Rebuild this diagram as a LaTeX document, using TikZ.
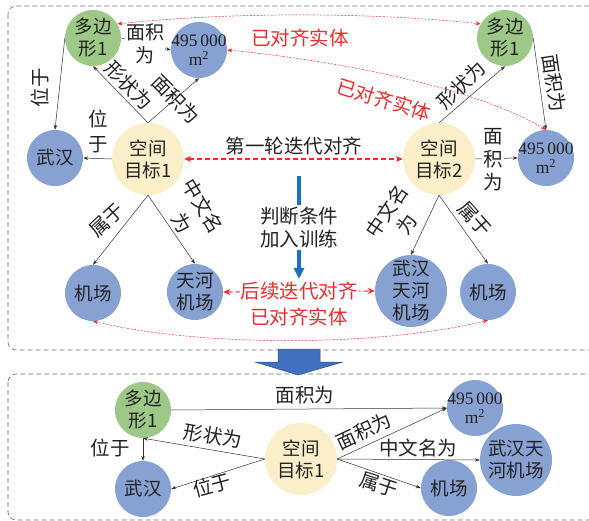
\documentclass[tikz,border=0pt]{standalone}
\usepackage{fontspec}
\setmainfont{Noto Sans CJK SC}
\newfontfamily\numfont{Liberation Serif}
\usetikzlibrary{arrows.meta}
\definecolor{gnode}{HTML}{9DC887}
\definecolor{bnode}{HTML}{87A1D2}
\definecolor{ynode}{HTML}{FAEFC9}
\definecolor{myred}{HTML}{EE2A2A}
\definecolor{arrblue}{HTML}{1F6FBF}
\definecolor{blockblue}{HTML}{4170C0}
\definecolor{blockedge}{HTML}{2F5597}
\definecolor{boxgray}{HTML}{6E6E6E}
\definecolor{txt}{HTML}{222222}
\newcommand\nodefont{\fontsize{18.5}{22}\selectfont}
\newcommand\lblfont{\fontsize{19.5}{23}\selectfont}
\newcommand\areafont{\numfont\fontsize{17.5}{19}\selectfont}
\tikzset{
  circ/.style={circle, inner sep=-10pt, minimum size=56pt, align=center, font=\nodefont, text=txt},
  bigc/.style={circ, minimum size=72pt},
  areac/.style={circ, fill=bnode, font=\areafont},
  lbl/.style={font=\lblfont, text=txt, inner sep=1pt, align=center},
  redlbl/.style={lbl, text=myred},
  edge/.style={draw=black!80, line width=0.5pt, -{Stealth[length=5pt,width=3.5pt]}},
  redthin/.style={draw=myred, line width=0.5pt, dash pattern=on 2pt off 1.5pt,
     {Stealth[length=5pt,width=4pt]}-{Stealth[length=5pt,width=4pt]}},
  redthick/.style={draw=myred, line width=1.1pt, dash pattern=on 5pt off 3pt,
     {Stealth[length=7pt,width=6pt]}-{Stealth[length=7pt,width=6pt]}},
  bluearr/.style={draw=arrblue, line width=3.5pt, -{Triangle[length=11pt,width=10pt]}},
  boxline/.style={draw=boxgray, line width=0.6pt, dash pattern=on 5pt off 3pt, rounded corners=8pt}
}
\begin{document}
\begin{tikzpicture}[x=1pt,y=-1pt]
\useasboundingbox (0,0) rectangle (589,521);
\clip (0,0) rectangle (589,521);

% block arrow between panels
\fill[blockblue, draw=blockedge, line width=0.5pt] (278,349) -- (320,349) -- (320,362) -- (343,362) -- (298,375) -- (255,362) -- (278,362) -- cycle;

% panels
\draw[boxline] (8,6) rectangle (600,350);
\draw[boxline] (8,374) rectangle (600,520);

% ---------- top panel nodes ----------
\node[circ, fill=gnode] (p1) at (93,38) {多边\\形1};
\node[areac] (a1) at (199,50) {495\,000\\m\textsuperscript{2}};
\node[circ, fill=bnode] (wh) at (55,158) {武汉};
\node[bigc, fill=ynode] (s1) at (148,159) {空间\\目标1};
\node[circ, fill=bnode] (jc1) at (93,293) {机场};
\node[circ, fill=bnode] (th1) at (195,292) {天河\\机场};
\node[bigc, fill=ynode] (s2) at (439,159) {空间\\目标2};
\node[circ, fill=gnode] (p2) at (505,38) {多边\\形1};
\node[areac] (a2) at (546,158) {495\,000\\m\textsuperscript{2}};
\node[bigc, fill=bnode] (wth2) at (411,291) {武汉\\天河\\机场};
\node[circ, fill=bnode] (jc2) at (488,292) {机场};

% black edges top
\draw[edge] (s1.west) -- (wh.east);
\draw[edge] (p1.west) -- (wh.north);
\draw[edge] (s1.north) -- (p1.south);
\draw[edge] (s1.north) -- (a1.south);
\draw[edge] (p1.east) -- (a1.west);
\draw[edge] (s1.south) -- (jc1.north);
\draw[edge] (s1.south) -- (th1.north);
\draw[edge] (s2.north) -- (p2.south);
\draw[edge] (p2.east) -- (a2.north);
\draw[edge] (s2.east) -- (a2.west);
\draw[edge] (s2.south) -- (wth2.north);
\draw[edge] (s2.south) -- (jc2.north);

% labels top
\node[lbl, rotate=90] (l1) at (40,88) {位于};
\node[lbl, font=\fontsize{19.5}{25}\selectfont] (l2) at (98,131) {位\\于};
\node[lbl, fill=white, font=\fontsize{19}{23}\selectfont] (l3) at (145,44) {面积\\为};
\node[lbl, rotate=-45] (l4) at (129,85) {形状为};
\node[lbl, rotate=-45] (l5) at (176,99) {面积为};
\node[lbl, rotate=43] (l6) at (107,220) {属于};
\node[lbl, rotate=-59] (l7a) at (203,206) {中文名};
\node[lbl, rotate=-59] (l7b) at (182,223) {为};
\node[lbl, rotate=45] (l8) at (461,85) {形状为};
\node[lbl, rotate=-82] (l9) at (554,83) {面积为};
\node[lbl, fill=white, font=\fontsize{19.5}{23}\selectfont] (l10) at (493,160) {面\\积\\为};
\node[lbl, rotate=56] (l11a) at (387,211) {中文名};
\node[lbl, rotate=56] (l11b) at (407,224) {为};
\node[lbl, rotate=-48] (l12) at (475,219) {属于};

% red alignment links
\draw[redthin] (p1.30) .. controls (230,12) and (370,12) .. (p2.150);
\node[redlbl] (r1) at (300,38) {已对齐实体};
\draw[redthin] (a1.east) .. controls (330,60) and (470,85) .. (a2.north);
\node[redlbl, rotate=-17] (r2) at (384,100) {已对齐实体};
\draw[redthick] (s1.east) -- (s2.west);
\node[lbl] (first) at (294,146) {第一轮迭代对齐};
\draw[redthick] (th1.east) -- (wth2.west) node[midway, redlbl, fill=white] (next) {后续迭代对齐};
\node[redlbl] (r3) at (299,317) {已对齐实体};
\draw[redthin] (jc1.south) .. controls (200,347) and (380,347) .. (jc2.south);

% blue vertical arrow
\coordinate (bt) at (299,176);
\coordinate (bb) at (299,279);
\draw[bluearr] (bt) -- (bb) node[midway, lbl, fill=white, inner sep=2pt] (judge) {判断条件\\加入训练};

% ---------- bottom panel ----------
\node[circ, fill=gnode] (p1b) at (143,410) {多边\\形1};
\node[circ, fill=bnode] (whb) at (143,489) {武汉};
\node[bigc, fill=ynode] (s1b) at (301,459) {空间\\目标1};
\node[areac] (a1b) at (475,408) {495\,000\\m\textsuperscript{2}};
\node[bigc, fill=bnode] (wthb) at (516,460) {武汉天\\河机场};
\node[circ, fill=bnode] (jcb) at (449,488) {机场};

\draw[edge] (p1b.east) -- (a1b.west);
\draw[edge] (s1b.west) -- (p1b.south);
\draw[edge] (s1b.west) -- (whb.east);
\draw[edge] (p1b.south) -- (whb.north);
\draw[edge] (s1b.east) -- (a1b.west);
\draw[edge] (s1b.east) -- (wthb.west);
\draw[edge] (s1b.east) -- (jcb.west);

\node[lbl] (b1) at (305,395) {面积为};
\node[lbl, rotate=-10] (b2) at (213,436) {形状为};
\node[lbl, rotate=15] (b3) at (212,485) {位于};
\node[lbl] (b4) at (110,448) {位于};
\node[lbl, rotate=25] (b5) at (364,431) {面积为};
\node[lbl] (b6) at (418,448) {中文名为};
\node[lbl, rotate=-18] (b7) at (379,485) {属于};
\end{tikzpicture}
\end{document}
